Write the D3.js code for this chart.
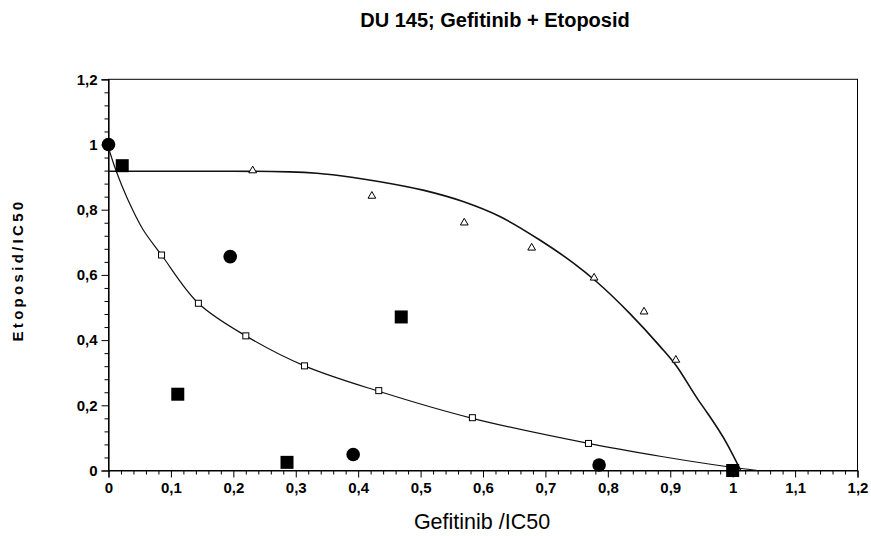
<!DOCTYPE html>
<html><head><meta charset="utf-8">
<script src="https://cdn.jsdelivr.net/npm/d3@7"></script>
<style>body{margin:0;background:#fff}svg{display:block}</style>
</head><body><svg id="c" width="871" height="536"></svg>
<script>
const title = "DU 145; Gefitinib + Etoposid";
const xLabel = "Gefitinib /IC50";
const yLabel = "Etoposid/IC50";
const xTicks = [0,0.1,0.2,0.3,0.4,0.5,0.6,0.7,0.8,0.9,1.0,1.1,1.2];
const yTicks = [0,0.2,0.4,0.6,0.8,1.0,1.2];

// filled circles
const circlesX = [0, 0.195, 0.392, 0.786];
const circlesY = [1.0, 0.656, 0.049, 0.017];
// filled squares
const squaresX = [0.022, 0.111, 0.286, 0.469, 1.0];
const squaresY = [0.935, 0.234, 0.025, 0.471, 0.0];
// open squares (additive curve points)
const openSqX = [0.085, 0.144, 0.220, 0.314, 0.433, 0.583, 0.769];
const openSqY = [0.661, 0.513, 0.413, 0.321, 0.245, 0.162, 0.083];
// open triangles
const triX = [0.231, 0.422, 0.570, 0.678, 0.778, 0.858, 0.909];
const triY = [0.920, 0.842, 0.760, 0.683, 0.591, 0.487, 0.339];
// upper envelope curve
const upperX = [0, 0.1, 0.2, 0.29, 0.334, 0.392, 0.435, 0.504, 0.568, 0.627, 0.691, 0.745, 0.782, 0.835, 0.884, 0.907, 0.945, 0.96, 0.99, 1.013];
const upperY = [0.918, 0.918, 0.918, 0.916, 0.912, 0.899, 0.886, 0.860, 0.825, 0.779, 0.707, 0.636, 0.579, 0.482, 0.380, 0.328, 0.216, 0.175, 0.085, 0.0];
// lower envelope curve
const lowerX = [0, 0.012, 0.03, 0.055, 0.085, 0.144, 0.22, 0.314, 0.433, 0.583, 0.769, 0.886, 0.987, 1.04];
const lowerY = [0.99, 0.92, 0.835, 0.74, 0.661, 0.513, 0.413, 0.321, 0.243, 0.16, 0.083, 0.043, 0.013, 0.0];

const svg = d3.select("#c");
const L = 108.5, R = 857.5, T = 79.3, B = 470.5;
const x = d3.scaleLinear().domain([0, 1.2]).range([L, R]);
const y = d3.scaleLinear().domain([0, 1.2]).range([B, T]);
const fmt = d => String(+d.toFixed(2)).replace('.', ',');
const FONT = "'Liberation Sans', Arial, sans-serif";

// frame
svg.append("rect").attr("x", L).attr("y", T).attr("width", R - L).attr("height", B - T)
  .attr("fill", "none").attr("stroke", "#000").attr("stroke-width", 1);

const xMinor = d3.range(0, 61).map(i => i * 0.02).filter(v => Math.round(v * 50) % 5 !== 0);
const yMinor = d3.range(0, 31).map(i => i * 0.04).filter(v => Math.round(v * 25) % 5 !== 0);

svg.append("g").attr("transform", `translate(0,${B})`)
  .call(d3.axisBottom(x).tickValues(xTicks).tickSize(7).tickPadding(5).tickFormat(fmt));
svg.append("g").attr("transform", `translate(0,${B})`)
  .call(d3.axisBottom(x).tickValues(xMinor).tickSize(4).tickFormat(""))
  .select(".domain").remove();
svg.append("g").attr("transform", `translate(${L},0)`)
  .call(d3.axisLeft(y).tickValues(yTicks).tickSize(7).tickPadding(4).tickFormat(fmt));
svg.append("g").attr("transform", `translate(${L},0)`)
  .call(d3.axisLeft(y).tickValues(yMinor).tickSize(4).tickFormat(""))
  .select(".domain").remove();
svg.selectAll(".domain").attr("stroke-width", 1.2);
svg.selectAll(".tick text").attr("font-family", FONT).attr("font-size", 15)
  .attr("font-weight", "bold").attr("fill", "#000");

// curves
const lineU = d3.line().x(d => x(d[0])).y(d => y(d[1])).curve(d3.curveMonotoneX);
const lineL = d3.line().x(d => x(d[0])).y(d => y(d[1])).curve(d3.curveCatmullRom.alpha(0.5));
svg.append("path").datum(upperX.map((v, i) => [v, upperY[i]])).attr("d", lineU)
  .attr("fill", "none").attr("stroke", "#111").attr("stroke-width", 1.6);
svg.append("path").datum(lowerX.map((v, i) => [v, lowerY[i]])).attr("d", lineL)
  .attr("fill", "none").attr("stroke", "#111").attr("stroke-width", 1.2);

// markers
svg.append("g").selectAll("path").data(triX.map((v, i) => [v, triY[i]])).join("path")
  .attr("transform", d => `translate(${x(d[0])},${y(d[1])})`)
  .attr("d", d3.symbol(d3.symbolTriangle, 26))
  .attr("fill", "#fff").attr("stroke", "#000").attr("stroke-width", 1);
svg.append("g").selectAll("rect").data(openSqX.map((v, i) => [v, openSqY[i]])).join("rect")
  .attr("x", d => x(d[0]) - 3).attr("y", d => y(d[1]) - 3).attr("width", 6).attr("height", 6)
  .attr("fill", "#fff").attr("stroke", "#000").attr("stroke-width", 1);
svg.append("g").selectAll("rect").data(squaresX.map((v, i) => [v, squaresY[i]])).join("rect")
  .attr("x", d => x(d[0]) - 6.5).attr("y", d => y(d[1]) - 6.5).attr("width", 13).attr("height", 13)
  .attr("fill", "#000");
svg.append("g").selectAll("circle").data(circlesX.map((v, i) => [v, circlesY[i]])).join("circle")
  .attr("cx", d => x(d[0])).attr("cy", d => y(d[1])).attr("r", 6.8).attr("fill", "#000");

// titles
svg.append("text").attr("x", 495).attr("y", 27).attr("text-anchor", "middle")
  .attr("font-family", FONT).attr("font-weight", "bold").attr("font-size", 20).text(title);
svg.append("text").attr("x", 482).attr("y", 529).attr("text-anchor", "middle")
  .attr("font-family", FONT).attr("font-size", 21.5).text(xLabel);
svg.append("text").attr("transform", "translate(23,270) rotate(-90)").attr("text-anchor", "middle")
  .attr("font-family", FONT).attr("font-weight", "bold").attr("font-size", 15)
  .attr("letter-spacing", 3.3).text(yLabel);
</script></body></html>
